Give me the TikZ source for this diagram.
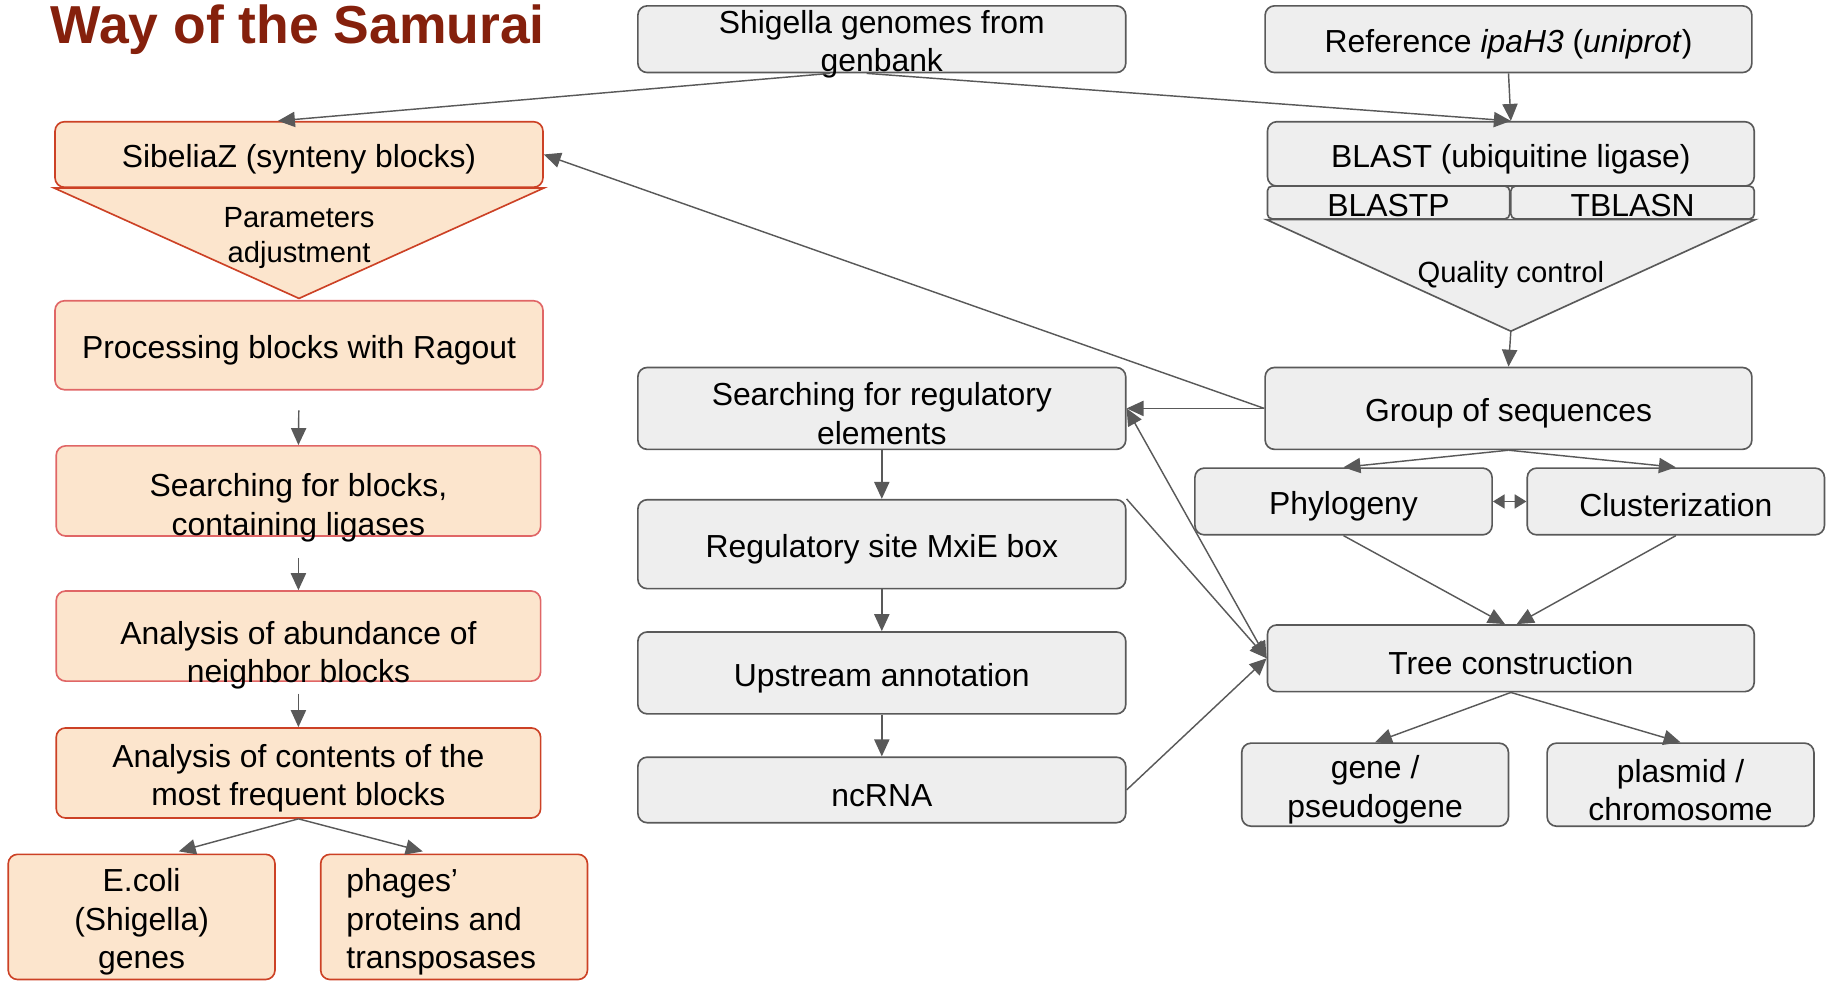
\documentclass[tikz,border=0pt]{standalone}
\usepackage{fontspec}
\setmainfont{Liberation Sans}
\usetikzlibrary{arrows.meta}
\definecolor{granate}{RGB}{133, 32, 12}
\definecolor{rojo}{RGB}{204, 65, 37}
\definecolor{rojoClaro}{RGB}{224, 102, 102}
\definecolor{durazno}{RGB}{252, 229, 205}
\definecolor{gris}{RGB}{238, 238, 238}
\definecolor{grisOscuro}{RGB}{89, 89, 89}
\newcommand{\bloque}[2][8cm]{\vbox to 0pt{\vss\hsize=#1\centering #2\par\vss}}
\tikzset{
    gbox/.style={draw=grisOscuro, fill=gris, rounded corners=0.16cm, line width=0.8pt, inner sep=0pt, minimum width=8.34cm, text height=0.18cm, font=\fontsize{15.5}{18.7}\selectfont},
    obox/.style={gbox, draw=rojoClaro, fill=durazno},
    rbox/.style={gbox, draw=rojo, fill=durazno},
    nota/.style={inner sep=0pt, font=\fontsize{14.2}{17}\selectfont},
    tri/.style={line width=0.8pt, line join=miter},
    conn/.style={->, grisOscuro, line width=0.7pt},
    connDoble/.style={grisOscuro, line width=0.7pt, {Triangle[length=0.2cm, width=0.24cm]}-{Triangle[length=0.2cm, width=0.24cm]}},
    >={Triangle[length=0.29cm, width=0.26cm]},
}

\begin{document}
\begin{tikzpicture}[x=0.02cm, y=-0.02cm]
        \useasboundingbox (0,0) rectangle (1568,838);
        \node [anchor=base west, inner sep=0pt, text=granate, font=\fontsize{26}{30}\selectfont\bfseries] (titulo) at (43,37) {Way of the Samurai};

        \node [gbox, minimum height=1.14cm] (shig) at (753.5,33.5) {\bloque{Shigella genomes from\\genbank}};
        \node [gbox, minimum width=8.32cm, minimum height=1.14cm] (ref) at (1289,33.5) {\bloque{Reference \textit{ipaH3} (\textit{uniprot})}};

        \node [rbox, minimum height=1.12cm] (sib) at (255.5,132) {\bloque{SibeliaZ (synteny blocks)}};
        \coordinate (sibPunta) at (255.5,255);
        \draw [tri, draw=rojo, fill=durazno] (sib.south west) -- (sib.south east) -- (sibPunta) -- cycle;
        \node [nota] (param) at (255.5,203) {\bloque[5cm]{Parameters\\adjustment}};

        \node [gbox, minimum width=8.32cm, minimum height=1.1cm] (blast) at (1291,131.5) {\bloque{BLAST (ubiquitine ligase)}};
        \node [gbox, rounded corners=0.08cm, minimum width=4.14cm, minimum height=0.56cm, text height=0.12cm] (blastp) at (1186.5,173) {\bloque[4cm]{BLASTP}};
        \node [gbox, rounded corners=0.08cm, minimum width=4.16cm, minimum height=0.56cm, text height=0.12cm] (tblasn) at (1395,173) {\bloque[4cm]{TBLASN}};
        \coordinate (qPunta) at (1291,283);
        \draw [tri, draw=grisOscuro, fill=gris] (blastp.south west) -- (tblasn.south east) -- (qPunta) -- cycle;
        \node [nota] (qc) at (1291,235) {\bloque[5cm]{Quality control}};

        \node [obox, minimum height=1.52cm] (proc) at (255.5,295) {\bloque{Processing blocks with Ragout}};
        \node [obox, minimum width=8.28cm, minimum height=1.54cm, text height=0.58cm] (sblk) at (255,419.5) {\bloque{Searching for blocks,\\containing ligases}};
        \node [obox, minimum width=8.28cm, minimum height=1.54cm, text height=0.66cm] (abund) at (255,543.5) {\bloque{Analysis of abundance of\\neighbor blocks}};
        \node [rbox, minimum width=8.28cm, minimum height=1.54cm] (cont) at (255,660.5) {\bloque{Analysis of contents of the\\most frequent blocks}};
        \node [rbox, minimum width=4.56cm, minimum height=2.14cm] (ecoli) at (121,783.5) {\bloque[4cm]{E.coli\\(Shigella)\\genes}};
        \node [rbox, minimum width=4.56cm, minimum height=2.14cm] (phages) at (388,783.5) {\bloque[3.68cm]{\raggedright phages'\\proteins and\\transposases}};

        \node [gbox, minimum height=1.4cm] (sreg) at (753.5,349) {\bloque{Searching for regulatory\\elements}};
        \node [gbox, minimum height=1.52cm] (rsite) at (753.5,465) {\bloque{Regulatory site MxiE box}};
        \node [gbox, minimum height=1.4cm] (upst) at (753.5,575) {\bloque{Upstream annotation}};
        \node [gbox, minimum height=1.12cm] (ncrna) at (753.5,675) {\bloque{ncRNA}};

        \node [gbox, minimum width=8.32cm, minimum height=1.4cm] (grupo) at (1289,349) {\bloque{Group of sequences}};
        \node [gbox, minimum width=5.08cm, minimum height=1.14cm] (filo) at (1148,428.5) {\bloque[4.8cm]{Phylogeny}};
        \node [gbox, minimum width=5.08cm, minimum height=1.14cm, text height=0.12cm] (clust) at (1432,428.5) {\bloque[4.8cm]{Clusterization}};
        \node [gbox, minimum width=8.32cm, minimum height=1.14cm] (arbol) at (1291,562.5) {\bloque{Tree construction}};
        \node [gbox, minimum width=4.56cm, minimum height=1.42cm] (gen) at (1175,670.5) {\bloque[4cm]{gene /\\pseudogene}};
        \node [gbox, minimum width=4.56cm, minimum height=1.42cm] (plasm) at (1436,670.5) {\bloque[4cm]{plasmid /\\chromosome}};

        \draw[conn] ([xshift=-0.88cm]shig.south) -- ([xshift=-0.36cm]sib.north);
        \draw[conn] ([xshift=-0.26cm]shig.south) -- (blast.north);
        \draw[conn] (ref.south) -- (blast.north);
        \draw[conn] (qPunta) -- (grupo.north);
        \draw[conn] (grupo.west) -- (sib.east);
        \draw[conn] (grupo.west) -- (sreg.east);
        \draw[conn] (grupo.south) -- (filo.north);
        \draw[conn] (grupo.south) -- (clust.north);
        \draw[connDoble] (filo.east) -- (clust.west);
        \draw[conn] (filo.south) -- ([xshift=-0.1cm]arbol.north);
        \draw[conn] (clust.south) -- ([xshift=0.1cm]arbol.north);
        \draw[conn] (arbol.south) -- (gen.north);
        \draw[conn] (arbol.south) -- (plasm.north);
        \draw[conn, <->] (sreg.east) -- (arbol.west);
        \draw[conn] (rsite.north east) -- (arbol.west);
        \draw[conn] (ncrna.east) -- (arbol.west);
        \draw[conn] (sreg.south) -- (rsite.north);
        \draw[conn] (rsite.south) -- (upst.north);
        \draw[conn] (upst.south) -- (ncrna.north);
        \draw[conn, shorten <=0.34cm] (proc.south) -- (sblk.north);
        \draw[conn, shorten <=0.36cm] (sblk.south) -- (abund.north);
        \draw[conn, shorten <=0.2cm] (abund.south) -- (cont.north);
        \draw[conn, shorten >=0.14cm] (cont.south) -- ([xshift=0.5cm]ecoli.north);
        \draw[conn, shorten >=0.14cm] (cont.south) -- ([xshift=-0.4cm]phages.north);
    \end{tikzpicture}
\end{document}
